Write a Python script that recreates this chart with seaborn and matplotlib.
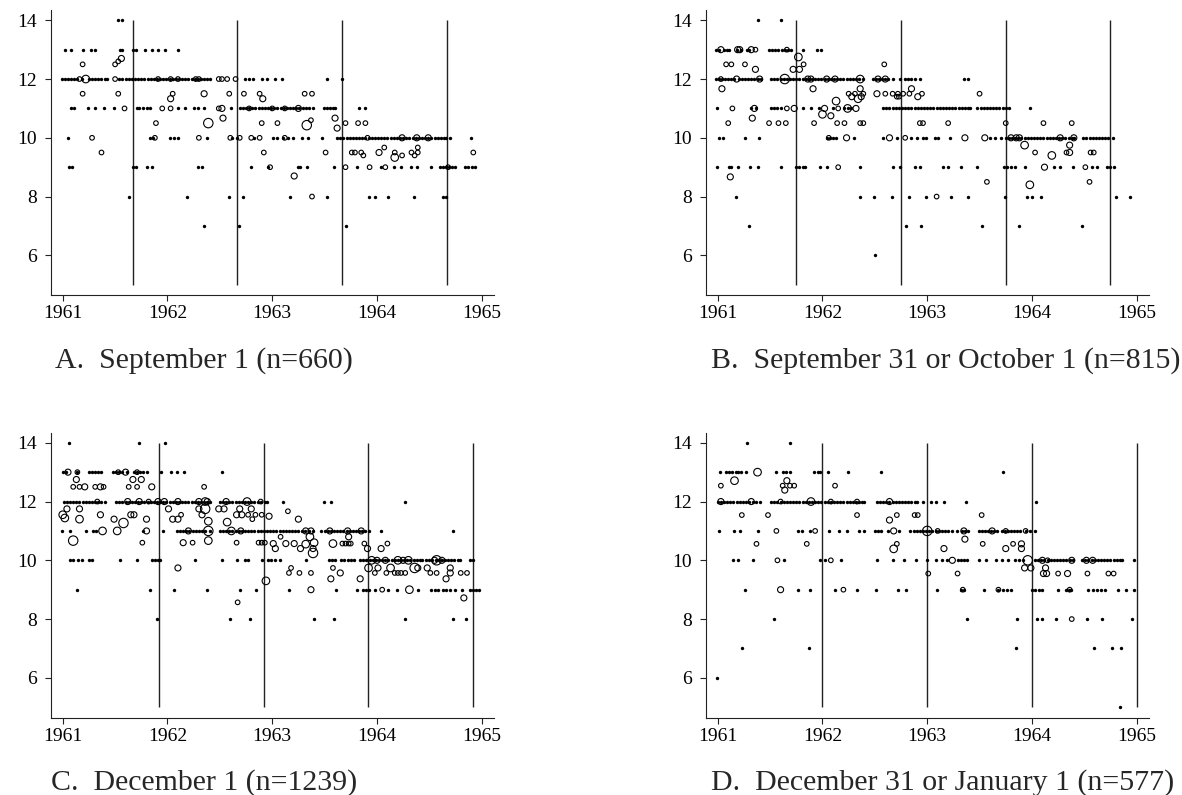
import numpy as np
import pandas as pd
import matplotlib
matplotlib.use('Agg')
import matplotlib.pyplot as plt
import seaborn as sns

# ---- data ----
# single observations (dots), by value level
A_dots = {
    14: [1961.53, 1961.57],
    13: [1961.02, 1961.08, 1961.19, 1961.27, 1961.31, 1961.55, 1961.57, 1961.67, 1961.70, 1961.79,
         1961.85, 1961.91, 1961.98, 1962.10],
    12: [1960.99, 1961.02, 1961.05, 1961.08, 1961.11, 1961.14, 1961.18, 1961.25, 1961.28, 1961.31,
         1961.34, 1961.37, 1961.40, 1961.42,
         1961.54, 1961.57, 1961.60, 1961.63, 1961.66, 1961.69, 1961.72, 1961.75, 1961.78, 1961.81,
         1961.84, 1961.87, 1961.90, 1961.93, 1961.96, 1961.99, 1962.02, 1962.05, 1962.08, 1962.11,
         1962.14, 1962.17, 1962.20, 1962.23, 1962.26, 1962.29, 1962.32, 1962.35, 1962.38, 1962.41,
         1962.74, 1962.78, 1962.82, 1962.90, 1962.95, 1963.03, 1963.09, 1963.52, 1963.67],
    11: [1961.08, 1961.11, 1961.24, 1961.31, 1961.39, 1961.49, 1961.71, 1961.73, 1961.77, 1961.80,
         1961.83, 1962.10, 1962.17, 1962.25, 1962.29, 1962.35, 1962.61,
         1962.69, 1962.72, 1962.75, 1962.78, 1962.81, 1962.84, 1962.87, 1962.90, 1962.93, 1962.96,
         1962.99, 1963.02, 1963.05, 1963.08, 1963.11, 1963.14, 1963.17, 1963.20, 1963.23, 1963.26,
         1963.29, 1963.32, 1963.35, 1963.39, 1963.49, 1963.52, 1963.55, 1963.58, 1963.60, 1963.83,
         1963.89],
    10: [1961.05, 1961.83, 1961.86, 1962.02, 1962.06, 1962.10, 1962.38, 1962.62, 1962.66, 1962.83,
         1963.01, 1963.05, 1963.10, 1963.15, 1963.20, 1963.28, 1963.34, 1963.48,
         1963.62, 1963.65, 1963.68, 1963.71, 1963.74, 1963.77, 1963.80, 1963.83, 1963.86, 1963.89,
         1963.92, 1963.95, 1963.98, 1964.01, 1964.04, 1964.07, 1964.10, 1964.13, 1964.16, 1964.19,
         1964.22, 1964.25, 1964.28, 1964.31, 1964.34, 1964.37, 1964.40, 1964.43, 1964.46, 1964.49,
         1964.52, 1964.55, 1964.58, 1964.61, 1964.64, 1964.66, 1964.70, 1964.90],
    9: [1961.06, 1961.09, 1961.67, 1961.70, 1961.80, 1961.85, 1962.29, 1962.33, 1962.80, 1962.96,
        1963.25, 1963.27, 1963.33, 1963.59, 1963.81, 1964.04, 1964.16, 1964.23, 1964.33, 1964.38,
        1964.52, 1964.60, 1964.63, 1964.66, 1964.69, 1964.72, 1964.75, 1964.84, 1964.87, 1964.91,
        1964.94],
    8: [1961.63, 1962.19, 1962.59, 1962.72, 1963.17, 1963.52, 1963.92, 1963.98, 1964.11, 1964.35,
        1964.63, 1964.66],
    7: [1962.35, 1962.68, 1963.70],
}
# several observations at one birth date: (date, mean value, count)
A_circles = [
    (1961.22, 12, 4), (1961.16, 12, 2), (1961.50, 12, 2), (1962.49, 12, 2), (1962.52, 12, 2),
    (1962.57, 12, 2), (1962.65, 12, 2), (1961.91, 12, 2), (1962.03, 12, 2), (1962.10, 12, 2),
    (1962.27, 12, 2), (1962.30, 12, 2),
    (1961.19, 12.5, 2), (1961.50, 12.5, 2), (1961.53, 12.6, 2), (1961.56, 12.7, 3),
    (1961.19, 11.5, 2), (1961.53, 11.5, 2), (1962.05, 11.5, 2), (1962.35, 11.5, 3), (1962.59, 11.5, 2),
    (1962.73, 11.5, 2), (1962.88, 11.5, 2), (1963.31, 11.5, 2), (1963.38, 11.5, 2),
    (1962.03, 11.33, 3), (1962.91, 11.33, 3),
    (1961.59, 11, 2), (1961.95, 11, 2), (1962.03, 11, 2), (1962.49, 11, 2), (1962.52, 11, 3),
    (1962.78, 11, 2), (1963.00, 11, 2), (1963.12, 11, 2), (1963.25, 11, 3),
    (1961.89, 10.5, 2), (1962.39, 10.5, 5), (1962.53, 10.67, 3), (1962.90, 10.5, 2), (1963.05, 10.5, 2),
    (1963.33, 10.43, 5), (1963.37, 10.6, 2), (1963.60, 10.67, 3), (1963.62, 10.33, 3),
    (1963.70, 10.5, 2), (1963.82, 10.5, 2), (1963.89, 10.5, 2),
    (1961.28, 10, 2), (1961.88, 10, 2), (1962.30, 10, 2), (1962.60, 10, 2), (1962.69, 10, 2),
    (1962.80, 10, 2), (1962.88, 10, 2), (1963.12, 10, 2), (1963.91, 10, 2), (1964.24, 10, 3),
    (1964.38, 10, 3), (1964.49, 10, 3),
    (1961.37, 9.5, 2), (1962.92, 9.5, 2), (1963.51, 9.5, 2), (1963.76, 9.5, 2), (1963.79, 9.5, 2),
    (1963.85, 9.5, 2), (1964.02, 9.5, 3), (1964.17, 9.5, 2), (1964.33, 9.5, 2), (1964.39, 9.5, 2),
    (1964.92, 9.5, 2), (1964.07, 9.67, 2), (1964.39, 9.67, 2),
    (1963.87, 9.4, 2), (1964.17, 9.33, 4), (1964.24, 9.4, 2), (1964.36, 9.4, 2),
    (1962.98, 9, 2), (1963.70, 9, 2), (1963.93, 9, 2), (1964.08, 9, 2), (1964.68, 9, 2),
    (1963.21, 8.7, 3), (1963.38, 8, 2),
]

B_dots = {
    14: [1961.38, 1961.60],
    13: [1960.98, 1961.01, 1961.06, 1961.09, 1961.11, 1961.18, 1961.22, 1961.28, 1961.30, 1961.49,
         1961.52, 1961.55, 1961.58, 1961.61, 1961.64, 1961.67, 1961.70, 1961.81, 1961.95, 1961.99],
    12: [1960.98, 1961.01, 1961.04, 1961.07, 1961.10, 1961.13, 1961.16, 1961.20, 1961.23, 1961.26,
         1961.29, 1961.32, 1961.35, 1961.38, 1961.41,
         1961.51, 1961.54, 1961.57, 1961.60, 1961.63, 1961.66, 1961.69, 1961.72, 1961.75, 1961.78,
         1961.81, 1961.84, 1961.87, 1961.90, 1961.93, 1961.96, 1961.99, 1962.02, 1962.05, 1962.08,
         1962.11, 1962.14, 1962.17, 1962.20, 1962.23, 1962.26, 1962.29, 1962.32, 1962.35, 1962.39,
         1962.48, 1962.51, 1962.54, 1962.57, 1962.60, 1962.63, 1962.67, 1962.745, 1962.79, 1962.82,
         1962.85, 1962.88, 1962.93, 1963.35, 1963.39],
    11: [1960.99, 1961.32, 1961.37, 1961.51, 1961.54, 1961.57, 1961.60, 1961.81, 1961.89, 1961.97,
         1962.10, 1962.21, 1962.24, 1962.27,
         1962.58, 1962.61, 1962.64, 1962.67, 1962.70, 1962.73, 1962.76, 1962.79, 1962.82, 1962.85,
         1962.88, 1962.91, 1962.94, 1962.97, 1963.00, 1963.03, 1963.06, 1963.09, 1963.12, 1963.15,
         1963.18, 1963.21, 1963.24, 1963.27, 1963.30, 1963.33, 1963.36, 1963.39, 1963.41,
         1963.48, 1963.51, 1963.54, 1963.57, 1963.60, 1963.63, 1963.66, 1963.69, 1963.72, 1963.75,
         1963.78, 1963.98],
    10: [1961.01, 1961.05, 1961.26, 1961.39, 1962.04, 1962.07, 1962.10, 1962.13, 1962.30, 1962.58,
         1962.71, 1962.85, 1962.90, 1962.96, 1962.99, 1963.07, 1963.10, 1963.22, 1963.60, 1963.65,
         1963.70, 1963.75, 1963.78, 1963.81, 1963.84, 1963.87, 1963.90, 1963.93, 1963.96, 1963.99,
         1964.02, 1964.05, 1964.08, 1964.11, 1964.14, 1964.17, 1964.20, 1964.23, 1964.26, 1964.29,
         1964.32, 1964.35, 1964.38, 1964.40,
         1964.49, 1964.52, 1964.55, 1964.58, 1964.61, 1964.64, 1964.67, 1964.70, 1964.73, 1964.77],
    9: [1960.99, 1961.11, 1961.13, 1961.19, 1961.31, 1961.38, 1961.60, 1961.75, 1961.78, 1961.81,
        1961.83, 1961.98, 1962.04, 1962.36, 1962.67, 1962.74, 1962.88, 1962.93, 1963.15, 1963.20,
        1963.32, 1963.48, 1963.73, 1963.76, 1963.80, 1963.84, 1963.93, 1964.21, 1964.27, 1964.39,
        1964.57, 1964.62, 1964.72, 1964.75, 1964.78],
    8: [1961.17, 1962.36, 1962.49, 1962.66, 1962.83, 1962.99, 1963.23, 1963.39, 1963.745, 1963.95,
        1964.00, 1964.09, 1964.80, 1964.94],
    7: [1961.30, 1962.80, 1962.94, 1963.52, 1963.88, 1964.48],
    6: [1962.50],
}
B_circles = [
    (1961.03, 13, 3), (1961.19, 13, 3), (1961.21, 13, 3), (1961.32, 13, 3), (1961.36, 13, 2),
    (1961.66, 13, 2),
    (1961.08, 12.5, 2), (1961.13, 12.5, 2), (1961.26, 12.5, 2), (1961.82, 12.5, 2), (1962.59, 12.5, 2),
    (1961.77, 12.75, 4), (1961.36, 12.33, 3), (1961.72, 12.33, 3), (1961.78, 12.33, 3),
    (1961.03, 12, 2), (1961.18, 12, 3), (1961.40, 12, 3), (1961.64, 12, 5), (1961.86, 12, 3),
    (1961.89, 12, 3), (1962.04, 12, 3), (1962.12, 12, 3), (1962.36, 12, 4), (1962.53, 12, 3),
    (1962.60, 12, 3),
    (1961.04, 11.67, 3), (1961.91, 11.67, 3), (1962.36, 11.67, 3), (1962.85, 11.67, 3),
    (1962.25, 11.5, 2), (1962.31, 11.5, 2), (1962.39, 11.5, 2), (1962.52, 11.5, 3), (1962.60, 11.5, 2),
    (1962.67, 11.5, 2), (1962.72, 11.5, 2), (1962.77, 11.5, 2), (1962.83, 11.5, 2), (1962.95, 11.5, 2),
    (1963.50, 11.5, 2),
    (1962.28, 11.4, 3), (1962.37, 11.4, 3), (1962.71, 11.4, 2), (1962.73, 11.4, 2), (1962.91, 11.4, 3),
    (1962.13, 11.25, 4), (1962.34, 11.33, 4),
    (1961.14, 11, 2), (1961.35, 11, 3), (1961.66, 11, 2), (1961.73, 11, 3), (1962.02, 11, 3),
    (1962.15, 11, 2), (1962.24, 11, 4), (1962.32, 11, 3),
    (1962.00, 10.8, 4), (1962.08, 10.75, 3),
    (1961.10, 10.5, 2), (1961.33, 10.67, 3), (1961.49, 10.5, 2), (1961.58, 10.5, 2), (1961.65, 10.5, 2),
    (1961.92, 10.5, 2), (1962.14, 10.5, 2), (1962.21, 10.5, 2), (1962.36, 10.5, 2), (1962.39, 10.5, 2),
    (1962.93, 10.5, 2), (1962.96, 10.5, 2), (1963.20, 10.5, 2), (1963.75, 10.5, 2), (1964.11, 10.5, 2),
    (1964.38, 10.5, 2),
    (1962.06, 10, 2), (1962.23, 10, 3), (1962.64, 10, 3), (1962.79, 10, 2), (1963.36, 10, 3),
    (1963.55, 10, 3), (1963.80, 10, 3), (1963.85, 10, 3), (1963.88, 10, 3), (1964.27, 10, 3),
    (1964.40, 10, 3),
    (1963.93, 9.75, 4), (1964.36, 9.75, 3),
    (1964.03, 9.5, 2), (1964.33, 9.5, 2), (1964.36, 9.5, 3), (1964.56, 9.5, 2), (1964.59, 9.5, 2),
    (1964.19, 9.4, 4),
    (1962.15, 9, 2), (1964.12, 9, 3), (1964.51, 9, 2),
    (1961.12, 8.67, 3), (1963.57, 8.5, 2), (1964.55, 8.5, 2), (1963.98, 8.4, 4), (1963.09, 8, 2),
]

C_dots = {
    14: [1961.06, 1961.73, 1961.98],
    13: [1961.00, 1961.03, 1961.14, 1961.25, 1961.28, 1961.31, 1961.34, 1961.37, 1961.48, 1961.51,
         1961.54, 1961.57, 1961.61, 1961.68, 1961.71, 1961.74, 1961.77, 1961.80, 1961.94, 1962.03,
         1962.09, 1962.16, 1962.52],
    12: [1961.01, 1961.04, 1961.07, 1961.10, 1961.13, 1961.16, 1961.19, 1961.22, 1961.25, 1961.28,
         1961.31, 1961.34, 1961.37, 1961.40,
         1961.51, 1961.54, 1961.57, 1961.60, 1961.63, 1961.66, 1961.69, 1961.72, 1961.75, 1961.78,
         1961.81, 1961.84, 1961.87, 1961.90, 1961.93, 1961.96, 1961.99, 1962.02, 1962.05, 1962.08,
         1962.11, 1962.14, 1962.17, 1962.20, 1962.23, 1962.26, 1962.29, 1962.32, 1962.35, 1962.38,
         1962.41, 1962.50, 1962.53, 1962.56, 1962.59, 1962.62, 1962.65, 1962.68, 1962.71, 1962.74,
         1962.77, 1962.80, 1962.83, 1962.86, 1962.89, 1962.93, 1962.95,
         1963.10, 1963.49, 1963.56, 1964.27],
    11: [1960.99, 1961.07, 1961.22, 1961.29, 1961.32, 1961.77, 1961.96,
         1962.09, 1962.12, 1962.15, 1962.18, 1962.21, 1962.24, 1962.27, 1962.30, 1962.33, 1962.36,
         1962.41, 1962.50, 1962.53, 1962.56, 1962.59, 1962.62, 1962.65, 1962.68, 1962.71, 1962.74,
         1962.77, 1962.80, 1962.83, 1962.86, 1962.89, 1962.92, 1962.95, 1962.98, 1963.01, 1963.04,
         1963.07, 1963.10, 1963.13, 1963.16, 1963.19, 1963.22, 1963.25, 1963.28, 1963.31, 1963.35,
         1963.39, 1963.47, 1963.50, 1963.53, 1963.56, 1963.59, 1963.62, 1963.65, 1963.68, 1963.71,
         1963.74, 1963.77, 1963.80, 1963.83, 1963.86, 1963.89, 1963.92, 1964.04, 1964.73],
    10: [1961.07, 1961.10, 1961.15, 1961.18, 1961.25, 1961.28, 1961.55, 1961.71, 1961.85, 1961.88,
         1961.91, 1961.93, 1962.26, 1962.52, 1962.66, 1962.74, 1962.77, 1962.90, 1962.96, 1962.99,
         1963.03, 1963.07, 1963.32, 1963.54, 1963.57, 1963.60, 1963.66, 1963.69, 1963.72, 1963.75,
         1963.78, 1963.84, 1963.87, 1963.90, 1963.93, 1963.96, 1963.99, 1964.02, 1964.05, 1964.08,
         1964.11, 1964.14, 1964.17, 1964.20, 1964.23, 1964.26, 1964.29, 1964.32, 1964.35, 1964.38,
         1964.41, 1964.43, 1964.47, 1964.50, 1964.53, 1964.56, 1964.59, 1964.62, 1964.65, 1964.68,
         1964.71, 1964.74, 1964.77, 1964.79, 1964.89, 1964.92],
    9: [1961.14, 1961.83, 1962.06, 1962.38, 1962.69, 1962.85, 1963.16, 1963.61, 1963.81, 1963.87,
        1963.90, 1963.92, 1963.98, 1964.11, 1964.19, 1964.39, 1964.52, 1964.55, 1964.58, 1964.63,
        1964.66, 1964.70, 1964.75, 1964.81, 1964.89, 1964.92, 1964.95, 1964.97],
    8: [1961.90, 1962.60, 1962.79, 1963.40, 1963.59, 1964.27, 1964.73, 1964.85],
}
C_circles = [
    (1961.05, 13, 3), (1961.14, 13, 2), (1961.60, 13, 3), (1961.53, 13, 2), (1961.71, 13, 2),
    (1961.13, 12.75, 3), (1961.67, 12.75, 3), (1961.75, 12.75, 3),
    (1961.10, 12.5, 2), (1961.16, 12.5, 2), (1961.21, 12.5, 3), (1961.31, 12.5, 2), (1961.36, 12.5, 3),
    (1961.39, 12.5, 2), (1961.63, 12.5, 2), (1961.71, 12.5, 2), (1961.85, 12.5, 3), (1962.35, 12.5, 2),
    (1961.33, 12, 2), (1961.62, 12, 3), (1961.73, 12, 3), (1961.82, 12, 2), (1961.91, 12, 3),
    (1961.97, 12, 3), (1962.10, 12, 3), (1962.30, 12, 3), (1962.36, 12, 4), (1962.38, 12, 3),
    (1962.56, 12, 3), (1962.76, 12, 4), (1962.89, 12, 2),
    (1961.04, 11.75, 3), (1961.16, 11.75, 3), (1962.01, 11.75, 3), (1962.30, 11.75, 3),
    (1962.36, 11.75, 5), (1962.49, 11.75, 3), (1962.54, 11.75, 3), (1962.69, 11.75, 3),
    (1962.80, 11.75, 3), (1963.15, 11.67, 2),
    (1961.00, 11.55, 4), (1961.36, 11.55, 3), (1961.65, 11.55, 3), (1961.68, 11.55, 3),
    (1962.13, 11.55, 2), (1962.33, 11.55, 3), (1962.66, 11.55, 3), (1962.71, 11.55, 3),
    (1962.77, 11.55, 2), (1962.84, 11.55, 2), (1962.90, 11.55, 2), (1962.97, 11.5, 3),
    (1961.02, 11.44, 4), (1961.16, 11.4, 4), (1961.49, 11.4, 3), (1961.58, 11.27, 5),
    (1961.80, 11.4, 3), (1962.05, 11.4, 3), (1962.10, 11.4, 3), (1962.39, 11.33, 4),
    (1962.57, 11.3, 4), (1962.81, 11.4, 2), (1963.25, 11.4, 3),
    (1961.38, 11, 4), (1961.52, 11, 4), (1961.80, 11, 3), (1962.20, 11, 3), (1962.39, 11, 5),
    (1962.61, 11, 4), (1962.70, 11, 3), (1963.32, 11, 3), (1963.37, 11, 3), (1963.55, 11, 3),
    (1963.72, 11, 3), (1963.85, 11, 3),
    (1963.08, 10.8, 2), (1963.36, 10.8, 4), (1963.73, 10.8, 3),
    (1961.10, 10.67, 5), (1961.76, 10.6, 2), (1962.15, 10.6, 3), (1962.24, 10.6, 2),
    (1962.39, 10.67, 4), (1962.66, 10.6, 2), (1962.87, 10.6, 2), (1962.90, 10.6, 2), (1962.93, 10.6, 2),
    (1963.01, 10.57, 3), (1963.13, 10.57, 3), (1963.21, 10.57, 3), (1963.32, 10.55, 4),
    (1963.40, 10.6, 4), (1963.58, 10.57, 4), (1963.67, 10.57, 2), (1963.70, 10.57, 2),
    (1963.73, 10.57, 2), (1963.75, 10.57, 2), (1963.88, 10.57, 2), (1964.10, 10.57, 2),
    (1963.03, 10.4, 3), (1963.27, 10.4, 3), (1963.39, 10.4, 3), (1963.91, 10.4, 3), (1964.04, 10.4, 3),
    (1963.39, 10.25, 5),
    (1963.95, 10, 4), (1964.00, 10, 3), (1964.08, 10, 3), (1964.20, 10, 4), (1964.25, 10, 3),
    (1964.30, 10, 4), (1964.55, 10, 3), (1964.57, 10, 5), (1964.62, 10, 3),
    (1962.10, 9.74, 3), (1963.18, 9.74, 2), (1963.58, 9.74, 2), (1963.92, 9.74, 4), (1964.01, 9.74, 3),
    (1964.13, 9.74, 4), (1964.36, 9.74, 5), (1964.39, 9.74, 3), (1964.48, 9.74, 3), (1964.70, 9.74, 3),
    (1963.16, 9.57, 2), (1963.26, 9.57, 2), (1963.37, 9.57, 2), (1963.65, 9.57, 3), (1963.98, 9.57, 2),
    (1964.09, 9.57, 2), (1964.17, 9.57, 2), (1964.20, 9.57, 2), (1964.23, 9.57, 2), (1964.27, 9.57, 2),
    (1964.51, 9.57, 2), (1964.57, 9.57, 2), (1964.70, 9.57, 3), (1964.80, 9.57, 2), (1964.86, 9.57, 2),
    (1962.94, 9.3, 4), (1963.56, 9.37, 3), (1963.84, 9.37, 3), (1964.66, 9.37, 3),
    (1963.37, 9, 3), (1964.31, 9, 4), (1964.05, 9, 2),
    (1962.67, 8.57, 2), (1964.83, 8.72, 3),
]

D_dots = {
    14: [1961.28, 1961.69],
    13: [1961.02, 1961.08, 1961.11, 1961.14, 1961.17, 1961.19, 1961.22, 1961.27, 1961.56, 1961.62,
         1961.65, 1961.69, 1961.92, 1961.96, 1961.98, 1962.05, 1962.24, 1962.56, 1963.72],
    12: [1961.00, 1961.03, 1961.06, 1961.09, 1961.12, 1961.15, 1961.18, 1961.21, 1961.24, 1961.27,
         1961.30, 1961.34, 1961.37, 1961.40,
         1961.51, 1961.54, 1961.57, 1961.60, 1961.63, 1961.66, 1961.69, 1961.72, 1961.75, 1961.78,
         1961.81, 1961.84, 1961.87, 1961.90, 1961.93, 1961.96, 1961.99, 1962.02, 1962.05, 1962.08,
         1962.11, 1962.14, 1962.17, 1962.20, 1962.23, 1962.26, 1962.29, 1962.32, 1962.35, 1962.38,
         1962.40, 1962.52, 1962.55, 1962.58, 1962.61, 1962.64, 1962.67, 1962.70, 1962.73, 1962.76,
         1962.79, 1962.82, 1962.85, 1962.88, 1962.90,
         1962.96, 1963.04, 1963.08, 1963.16, 1963.37, 1964.04],
    11: [1961.01, 1961.16, 1961.21, 1961.38, 1961.77, 1961.80, 1961.88, 1962.06, 1962.16, 1962.23,
         1962.35, 1962.40, 1962.50, 1962.53, 1962.56, 1962.63, 1962.73,
         1962.84, 1962.87, 1962.90, 1962.93, 1962.96, 1962.99, 1963.02, 1963.05, 1963.08, 1963.11,
         1963.14, 1963.17, 1963.20, 1963.24, 1963.28, 1963.33, 1963.36, 1963.39,
         1963.49, 1963.52, 1963.55, 1963.58, 1963.61, 1963.64, 1963.67,
         1963.71, 1963.74, 1963.77, 1963.80, 1963.83, 1963.86, 1963.89, 1963.94, 1963.98, 1964.03],
    10: [1961.15, 1961.19, 1961.34, 1961.63, 1961.98, 1962.02, 1962.18, 1962.52, 1962.67, 1962.78,
         1962.89, 1963.00, 1963.08, 1963.14, 1963.19, 1963.29, 1963.32, 1963.35, 1963.38, 1963.49,
         1963.56, 1963.66, 1963.71, 1963.77, 1963.84, 1963.88, 1963.91,
         1964.03, 1964.06, 1964.09, 1964.12, 1964.15, 1964.18, 1964.21, 1964.24, 1964.27, 1964.30,
         1964.33, 1964.36, 1964.39, 1964.48, 1964.51, 1964.54, 1964.57, 1964.60, 1964.63, 1964.66,
         1964.69, 1964.72, 1964.75, 1964.78, 1964.81, 1964.84, 1964.86, 1964.97],
    9: [1961.26, 1961.77, 1961.88, 1962.12, 1962.33, 1962.51, 1962.72, 1962.80, 1963.09, 1963.32,
        1963.35, 1963.54, 1963.68, 1963.72, 1963.76, 1963.80, 1964.00, 1964.03, 1964.07, 1964.10,
        1964.25, 1964.33, 1964.35, 1964.37, 1964.54, 1964.58, 1964.62, 1964.66, 1964.70, 1964.82,
        1964.90, 1964.97],
    8: [1961.54, 1963.38, 1963.86, 1964.05, 1964.10, 1964.23, 1964.53, 1964.67, 1964.96],
    7: [1961.23, 1961.87, 1963.85, 1964.59, 1964.76, 1964.85],
    6: [1960.99],
    5: [1964.84],
}
D_circles = [
    (1961.38, 13, 4), (1961.16, 12.71, 4), (1961.66, 12.71, 3),
    (1961.03, 12.54, 2), (1961.62, 12.54, 2), (1961.69, 12.54, 2), (1961.73, 12.54, 2),
    (1962.12, 12.54, 2), (1961.64, 12.39, 3),
    (1961.03, 12, 3), (1961.32, 12, 3), (1961.60, 12, 2), (1961.89, 12, 4), (1962.08, 12, 2),
    (1962.33, 12, 2), (1962.64, 12, 3),
    (1961.23, 11.54, 2), (1961.48, 11.54, 2), (1962.33, 11.54, 2), (1962.71, 11.54, 2),
    (1962.88, 11.54, 2), (1962.91, 11.54, 2), (1963.52, 11.54, 2), (1962.64, 11.37, 3),
    (1961.56, 11, 2), (1961.93, 11, 2), (1962.68, 11, 3), (1963.00, 11, 5), (1963.10, 11, 2),
    (1963.35, 11, 3), (1963.62, 11, 3), (1963.75, 11, 2), (1963.94, 11, 2),
    (1963.36, 10.72, 3),
    (1961.37, 10.56, 2), (1961.85, 10.56, 2), (1962.71, 10.56, 2), (1963.53, 10.56, 2),
    (1963.82, 10.56, 2), (1963.90, 10.56, 3),
    (1962.68, 10.39, 4), (1963.16, 10.4, 3), (1963.75, 10.4, 3), (1963.90, 10.4, 3),
    (1961.57, 10, 2), (1962.08, 10, 2), (1963.24, 10, 3), (1963.96, 10, 5), (1964.10, 10, 3),
    (1964.15, 10, 2), (1964.38, 10, 3), (1964.52, 10, 3), (1964.58, 10, 3),
    (1963.01, 9.55, 2), (1963.93, 9.74, 3), (1963.99, 9.74, 3), (1964.13, 9.74, 3),
    (1963.29, 9.55, 2), (1964.11, 9.55, 3), (1964.14, 9.55, 3), (1964.25, 9.55, 2), (1964.34, 9.55, 3),
    (1964.53, 9.55, 2), (1964.73, 9.55, 2), (1964.78, 9.55, 2),
    (1961.60, 9, 3), (1962.20, 9, 2), (1963.34, 9, 2), (1963.68, 9, 2), (1964.36, 9, 2),
    (1964.38, 8, 2),
]

# school-entry cut-off dates drawn as vertical lines
A_cutoffs = [1961.667, 1962.667, 1963.667, 1964.667]
B_cutoffs = [1961.75, 1962.75, 1963.75, 1964.75]
C_cutoffs = [1961.917, 1962.917, 1963.917, 1964.917]
D_cutoffs = [1962.0, 1963.0, 1964.0, 1965.0]

titles = ['A.  September 1 (n=660)', 'B.  September 31 or October 1 (n=815)',
          'C.  December 1 (n=1239)', 'D.  December 31 or January 1 (n=577)']
year_ticks = [1961, 1962, 1963, 1964, 1965]
value_ticks = [6, 8, 10, 12, 14]


def make_frame(dots, circles):
    rows = []
    for level, dates in dots.items():
        rows += [(d, level, 1) for d in dates]
    rows += list(circles)
    return pd.DataFrame(rows, columns=['birth', 'value', 'n'])


sns.set_style('ticks')
plt.rcParams['font.family'] = ['Liberation Serif', 'DejaVu Serif']

W, H = 1182, 795
fig = plt.figure(figsize=(W / 100, H / 100), dpi=100)

# axes boxes in pixels: left, top(of axes), width, height
boxes = [(51, 10, 442.5, 285), (706, 10, 442.5, 285),
         (51, 432.5, 442.5, 285), (706, 432.5, 442.5, 285)]
caption_pos = [(55, 368), (711, 368), (51, 790), (711, 790)]
panels = [(A_dots, A_circles, A_cutoffs), (B_dots, B_circles, B_cutoffs),
          (C_dots, C_circles, C_cutoffs), (D_dots, D_circles, D_cutoffs)]
size_map = {2: 11, 3: 19, 4: 30, 5: 46}

for i, (dots, circles, cutoffs) in enumerate(panels):
    l, t, w, h = boxes[i]
    ax = fig.add_axes([l / W, 1 - (t + h) / H, w / W, h / H])
    df = make_frame(dots, circles)
    single = df[df['n'] == 1]
    multi = df[df['n'] > 1]
    ax.vlines(cutoffs, 5, 14, color='#222222', lw=1.0, zorder=1)
    # one child at a birth date: small solid dot
    sns.scatterplot(data=single, x='birth', y='value', s=6, color='black',
                    linewidth=0, legend=False, ax=ax, zorder=2)
    # several children: hollow circle scaled by count
    sns.scatterplot(data=multi, x='birth', y='value', size='n', sizes=size_map,
                    facecolors='none', edgecolor='black', linewidth=0.8,
                    legend=False, ax=ax, zorder=3)
    ax.set_xlim(1960.888, 1965.113)
    ax.set_ylim(4.65, 14.35)
    ax.set_xticks(year_ticks)
    ax.set_yticks(value_ticks)
    ax.set_xlabel('')
    ax.set_ylabel('')
    sns.despine(ax=ax)
    for s in ['left', 'bottom']:
        ax.spines[s].set_linewidth(0.8)
        ax.spines[s].set_color('#222222')
    ax.tick_params(axis='both', direction='out', length=4, width=0.8, color='#222222',
                   labelsize=14, labelcolor='black')
    ax.tick_params(axis='x', pad=3.5)
    ax.tick_params(axis='y', pad=6)
    cx, cy = caption_pos[i]
    fig.text(cx / W, 1 - cy / H, titles[i], fontsize=21.5, ha='left', va='baseline')

fig.savefig('out.png', dpi=100)
